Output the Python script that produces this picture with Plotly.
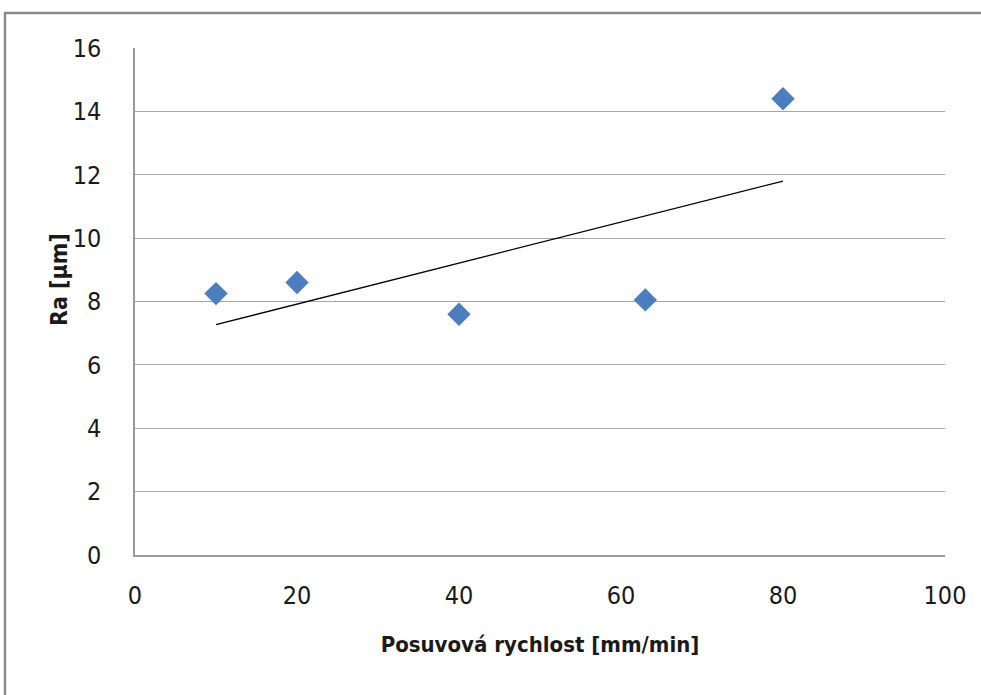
import numpy as np
import plotly.graph_objects as go

# Feed rate vs. surface roughness measurements
feed_rate = [10, 20, 40, 63, 80]
roughness = [8.25, 8.6, 7.6, 8.05, 14.4]

x_ticks = [0, 20, 40, 60, 80, 100]
y_ticks = [0, 2, 4, 6, 8, 10, 12, 14, 16]

# Linear trendline over the measured range
slope, intercept = np.polyfit(feed_rate, roughness, 1)
trend_x = [min(feed_rate), max(feed_rate)]
trend_y = [slope * v + intercept for v in trend_x]

W, H = 981, 695
L, R, T, B = 135, 36, 48, 140
pw, ph = W - L - R, H - T - B

font_family = "DejaVu Sans Condensed, Liberation Sans Narrow, Liberation Sans, sans-serif"

fig = go.Figure()
fig.add_trace(go.Scatter(
    x=trend_x, y=trend_y, mode="lines",
    line=dict(color="black", width=1.3), showlegend=False, hoverinfo="skip",
))
fig.add_trace(go.Scatter(
    x=feed_rate, y=roughness, mode="markers",
    marker=dict(symbol="diamond", size=18, color="#4A7EBF",
                line=dict(width=0)),
    showlegend=False,
))

# Outer chart-area frame
fig.add_shape(
    type="rect", xref="paper", yref="paper",
    x0=(5 - L) / pw, x1=(W + 20 - L) / pw,
    y0=-(H + 20 - T - ph) / ph, y1=1 + (T - 13) / ph,
    line=dict(color="#8a8a8a", width=2.5), fillcolor="rgba(0,0,0,0)",
    layer="below",
)

# Vertical axis title
fig.add_annotation(
    text="<b>Ra [µm]</b>", textangle=-90, showarrow=False,
    xref="paper", yref="paper",
    x=(59 - L) / pw, y=(555 - 280) / ph, xanchor="center", yanchor="middle",
    font=dict(size=23, family=font_family, color="#1a1a1a"),
)

fig.update_layout(
    width=W, height=H,
    margin=dict(l=L, r=R, t=T, b=B),
    paper_bgcolor="white", plot_bgcolor="white",
    font=dict(family=font_family, color="#1a1a1a", size=22),
    xaxis=dict(
        range=[0, 100], tickvals=x_ticks, showgrid=False, zeroline=False,
        showline=True, linecolor="#9a9a9a", linewidth=1.5,
        ticks="", ticklabelstandoff=17,
        tickfont=dict(size=25, family=font_family),
        title=dict(text="<b>Posuvová rychlost [mm/min]</b>", standoff=28,
                   font=dict(size=22, family=font_family)),
    ),
    yaxis=dict(
        range=[0, 16], tickvals=y_ticks, showgrid=True, gridcolor="#a6a6a6",
        gridwidth=1.3, zeroline=False,
        showline=True, linecolor="#9a9a9a", linewidth=1.5,
        ticks="", ticklabelstandoff=27,
        tickfont=dict(size=25, family=font_family),
    ),
)

fig.write_html("out.html")
